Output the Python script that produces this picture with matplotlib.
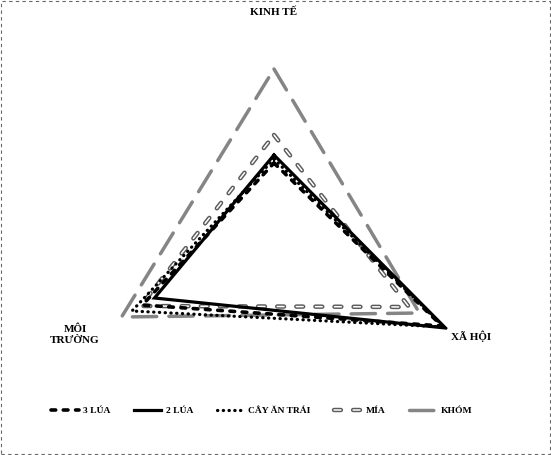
import numpy as np
import matplotlib
matplotlib.use("Agg")
import matplotlib.pyplot as plt
import matplotlib.patheffects as pe
from matplotlib.patches import Rectangle

plt.rcParams['font.family'] = ['Liberation Serif', 'DejaVu Serif']

# các trục và dữ liệu
axes_labels = ["KINH TẾ", "XÃ HỘI", "MÔI TRƯỜNG"]
angles_deg = [90, -30, 210]

lua3 = [33, 97, 76]
lua2 = [37, 99, 69]
cay_an_trai = [35, 98, 82]
mia = [47, 78, 77]
khom = [80, 84, 88]

series_names = ["3 LÚA", "2 LÚA", "CÂY ĂN TRÁI", "MÍA", "KHÓM"]

theta = np.deg2rad(angles_deg + [angles_deg[0]])

fig = plt.figure(figsize=(5.51, 4.55), dpi=100)
ax = fig.add_axes([74 / 551, 26 / 455, 400 / 551, 400 / 455], projection="polar")


def closed(v):
    return v + [v[0]]


# KHÓM - nét gạch dài màu xám
ax.plot(theta, closed(khom), color="#858585", lw=2.5, dashes=(7, 3.5),
        dash_capstyle="round", label=series_names[4], zorder=2)
# MÍA - nét gạch rỗng
ax.plot(theta, closed(mia), color="white", lw=1.1, dashes=(4.5, 8),
        dash_capstyle="round", label=series_names[3], zorder=3,
        path_effects=[pe.Stroke(linewidth=3.2, foreground="#5a5a5a"), pe.Normal()])
# CÂY ĂN TRÁI - chấm
ax.plot(theta, closed(cay_an_trai), color="black", lw=2.3, dashes=(0.1, 1.7),
        dash_capstyle="round", label=series_names[2], zorder=4)
# 3 LÚA - gạch ngắn
ax.plot(theta, closed(lua3), color="black", lw=2.6, dashes=(1.3, 2.1),
        dash_capstyle="round", label=series_names[0], zorder=5)
# 2 LÚA - nét liền
ax.plot(theta, closed(lua2), color="black", lw=2.3, solid_joinstyle="miter",
        label=series_names[1], zorder=6)

ax.set_ylim(0, 100)
ax.grid(False)
ax.spines["polar"].set_visible(False)
ax.set_xticks([])
ax.set_yticks([])
ax.set_facecolor("none")

# nhãn trục
fig.text(274 / 551, 1 - 12 / 455, axes_labels[0], ha="center", va="center",
         fontsize=8, fontweight="bold")
fig.text(471 / 551, 1 - 336 / 455, axes_labels[1], ha="center", va="center",
         fontsize=8, fontweight="bold")
fig.text(75 / 551, 1 - 335 / 455, "MÔI\nTRƯỜNG", ha="center", va="center",
         fontsize=8, fontweight="bold", linespacing=1.3)

# chú thích
handles, labels = ax.get_legend_handles_labels()
order = [labels.index(n) for n in series_names]
fig.legend([handles[i] for i in order], [labels[i] for i in order],
           loc="center", bbox_to_anchor=(262 / 551, 1 - 411 / 455), ncol=5,
           frameon=False, prop={"size": 6.8, "weight": "bold"},
           handlelength=2.9, handletextpad=0.45, columnspacing=2.5)

# khung viền nét đứt
fig.patches.append(Rectangle((0.002, 0.002), 0.996, 0.996, transform=fig.transFigure,
                             fill=False, edgecolor="#666666", lw=0.8, ls=(0, (3, 3))))

fig.savefig("out.png", dpi=100)
